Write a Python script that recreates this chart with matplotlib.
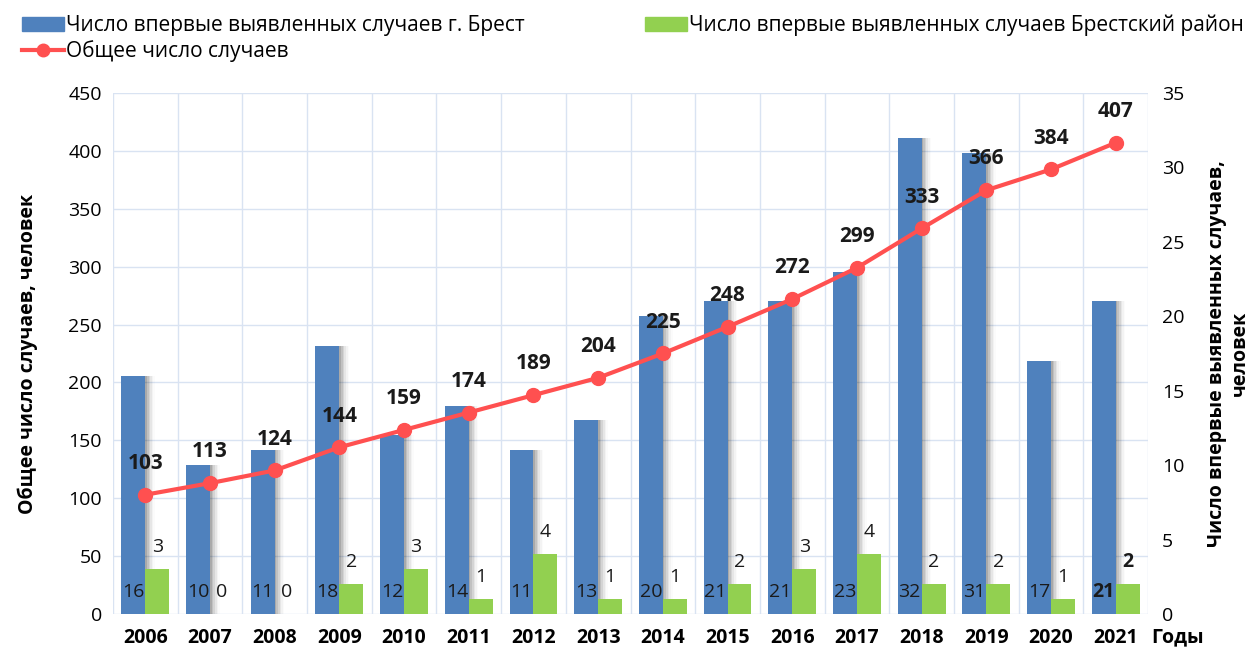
import matplotlib
matplotlib.use("Agg")
import matplotlib.pyplot as plt
import numpy as np
from matplotlib.lines import Line2D
from matplotlib.patches import Patch

plt.rcParams['font.family'] = ['Open Sans', 'DejaVu Sans']

# данные
years = ['2006', '2007', '2008', '2009', '2010', '2011', '2012', '2013',
         '2014', '2015', '2016', '2017', '2018', '2019', '2020', '2021']
brest_city = [16, 10, 11, 18, 12, 14, 11, 13, 20, 21, 21, 23, 32, 31, 17, 21]
brest_district = [3, 0, 0, 2, 3, 1, 4, 1, 1, 2, 3, 4, 2, 2, 1, 2]
total = [103, 113, 124, 144, 159, 174, 189, 204, 225, 248, 272, 299, 333, 366, 384, 407]

blue = '#4F81BD'
green = '#92D050'
red = '#FF5050'
grid_c = '#D9E3F2'

fig = plt.figure(figsize=(12.53, 6.54), dpi=100)
ax = fig.add_axes([0.0902, 0.0612, 0.8260, 0.7966])
ax2 = ax.twinx()

x = np.arange(len(years))
w = 0.37

# столбцы на правой оси
ax.set_zorder(2)
ax.patch.set_visible(False)
ax2.set_zorder(1)

# тень справа от синих столбцов
for k, a in enumerate([0.12, 0.09, 0.07, 0.05, 0.03, 0.015]):
    ax2.bar(x - w / 2 + 0.025 * (k + 1), brest_city, w, color='black', alpha=a,
            linewidth=0, zorder=1)
ax2.bar(x - w / 2, brest_city, w, color=blue, zorder=2)
ax2.bar(x + w / 2, brest_district, w, color=green, zorder=3)

for i in range(len(years)):
    fw = 'bold' if i == len(years) - 1 else 'normal'
    ax2.text(x[i] - w / 2, 1.45, str(brest_city[i]), ha='center', va='center',
             fontsize=14, color='#1a1a1a', zorder=5, fontweight=fw)
    ax2.text(x[i] + w / 2, brest_district[i] + 1.5, str(brest_district[i]),
             ha='center', va='center', fontsize=14, color='#1a1a1a', zorder=5,
             fontweight=fw)

ax2.set_ylim(0, 35)
ax2.set_yticks(range(0, 36, 5))
ax2.tick_params(axis='y', length=0, labelsize=14, pad=10)
ax2.set_ylabel('Число впервые выявленных случаев,\nчеловек', fontsize=14,
               fontweight='bold', labelpad=16)

# линия на левой оси
ax.plot(x, total, color=red, lw=3, marker='o', markersize=10, zorder=6)
for i in range(len(years)):
    ax.text(x[i], total[i] + 27, str(total[i]), ha='center', va='center',
            fontsize=15, fontweight='bold', color='#1a1a1a', zorder=7)

ax.set_ylim(0, 450)
ax.set_yticks(range(0, 451, 50))
ax.set_xlim(-0.5, len(years) - 0.5)
ax.set_xticks(x)
ax.set_xticklabels(years, fontsize=14, fontweight='bold')
ax.tick_params(axis='x', length=0, pad=10)
ax.tick_params(axis='y', length=0, labelsize=14, pad=8)
ax.set_ylabel('Общее число случаев, человек', fontsize=14, fontweight='bold',
              labelpad=22)

# сетка
for yv in range(0, 451, 50):
    ax2.axhline(yv * 35 / 450, color=grid_c, lw=1, zorder=0)
for xv in np.arange(-0.5, len(years), 1):
    ax2.axvline(xv, color=grid_c, lw=1, zorder=0)

for a in (ax, ax2):
    for s in a.spines.values():
        s.set_visible(False)

fig.text(0.94, 0.01, 'Годы', fontsize=14, fontweight='bold', ha='center',
         va='bottom')

handles = [Patch(color=blue), Line2D([], [], color=red, lw=3, marker='o', markersize=9),
           Patch(color=green)]
labels = ['Число впервые выявленных случаев г. Брест', 'Общее число случаев',
          'Число впервые выявленных случаев Брестский район']
fig.legend(handles, labels, ncol=2, loc='upper left', bbox_to_anchor=(0.006, 1.0),
           frameon=False, fontsize=15, handlelength=2.0, handletextpad=0.1,
           columnspacing=5.8, labelspacing=0.2, borderaxespad=0.3)

fig.savefig('out.png', dpi=100)
